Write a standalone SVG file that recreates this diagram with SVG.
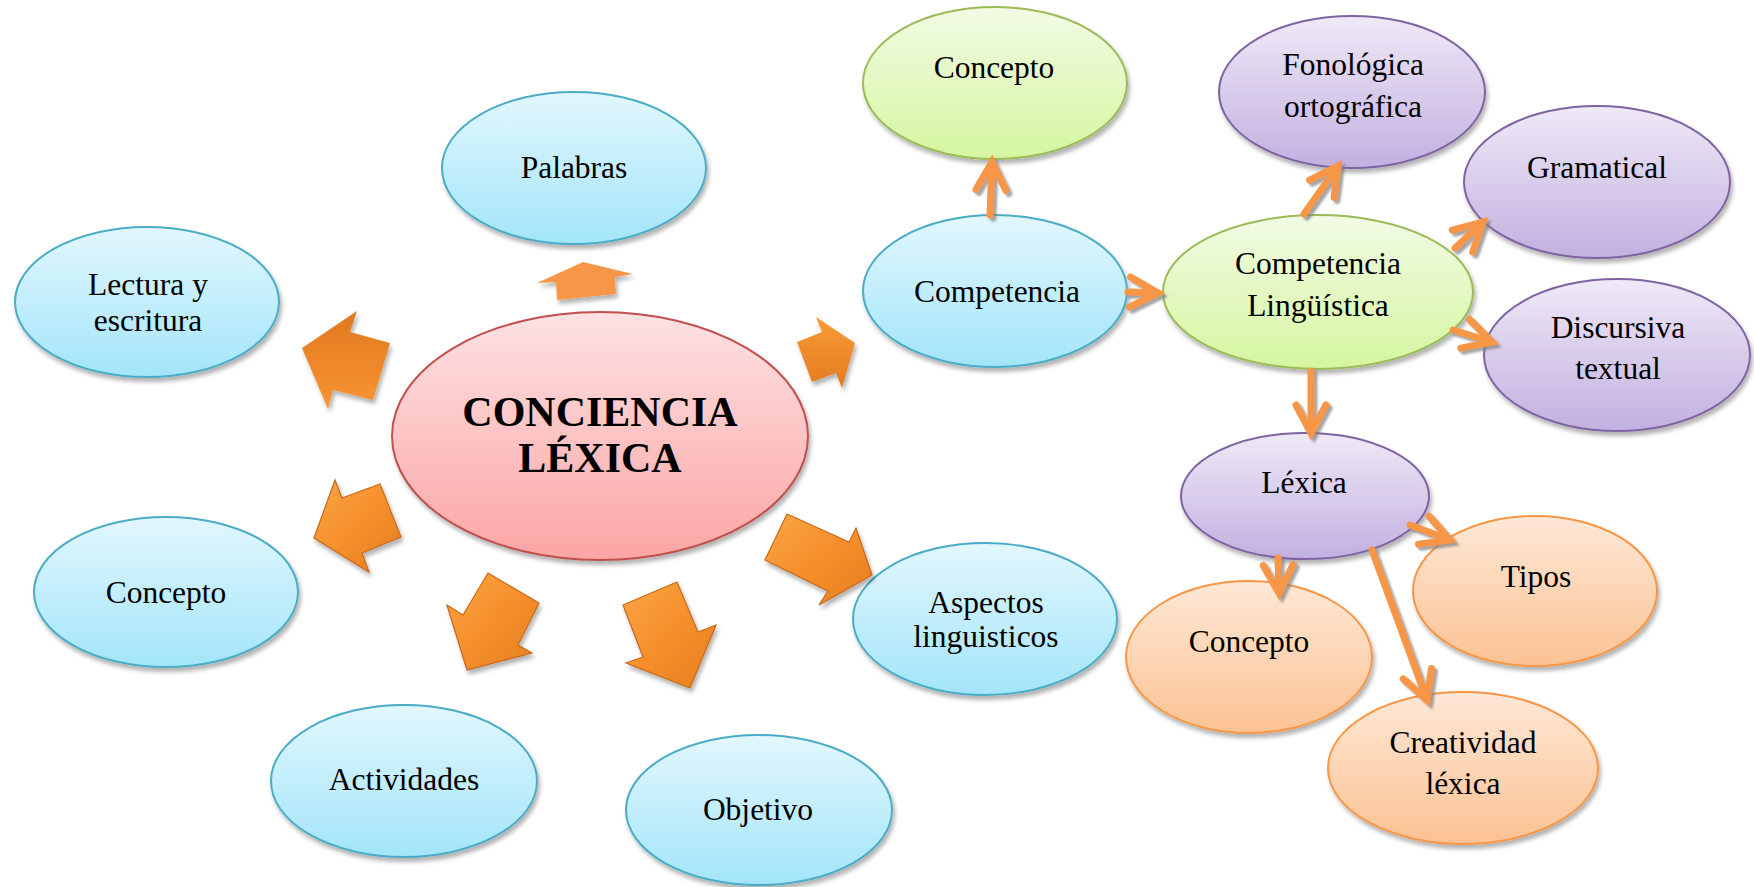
<svg xmlns="http://www.w3.org/2000/svg" width="1754" height="887" viewBox="0 0 1754 887">
<defs>
<linearGradient id="gBlue" x1="0" y1="0" x2="0" y2="1"><stop offset="0" stop-color="#e2f7fe"/><stop offset="1" stop-color="#a3e5f9"/></linearGradient>
<linearGradient id="gGreen" x1="0" y1="0" x2="0" y2="1"><stop offset="0" stop-color="#f2fbe4"/><stop offset="1" stop-color="#d5f6a0"/></linearGradient>
<linearGradient id="gPurple" x1="0" y1="0" x2="0" y2="1"><stop offset="0" stop-color="#efe9f7"/><stop offset="1" stop-color="#c2b0e0"/></linearGradient>
<linearGradient id="gOrange" x1="0" y1="0" x2="0" y2="1"><stop offset="0" stop-color="#fee8d6"/><stop offset="1" stop-color="#fbc293"/></linearGradient>
<linearGradient id="gPink" x1="0" y1="0" x2="0" y2="1"><stop offset="0" stop-color="#fde2e3"/><stop offset="1" stop-color="#fca5a5"/></linearGradient>
<linearGradient id="gArrDark" x1="0" y1="0" x2="0" y2="1"><stop offset="0" stop-color="#df7820"/><stop offset="1" stop-color="#f99533"/></linearGradient>
<linearGradient id="gArrLight" x1="0" y1="0" x2="0" y2="1"><stop offset="0" stop-color="#f99b36"/><stop offset="1" stop-color="#e27b21"/></linearGradient>
<linearGradient id="gBevel" x1="0" y1="0" x2="1" y2="1"><stop offset="0" stop-color="#fba645"/><stop offset="0.5" stop-color="#f68f2c"/><stop offset="1" stop-color="#e47e1f"/></linearGradient>
<filter id="sh" x="-10%" y="-10%" width="125%" height="130%"><feDropShadow dx="2" dy="4" stdDeviation="2" flood-color="#000" flood-opacity="0.3"/></filter>
<filter id="shc" x="-20%" y="-20%" width="150%" height="150%"><feDropShadow dx="3" dy="3" stdDeviation="1" flood-color="#7f7f7f" flood-opacity="0.7"/></filter>
<marker id="chev" markerUnits="userSpaceOnUse" orient="auto" refX="0" refY="0" markerWidth="40" markerHeight="40" viewBox="-36 -20 40 40" overflow="visible">
<path d="M-28,-15 L0,0 L-28,15" fill="none" stroke="#f79646" stroke-width="7" stroke-linecap="round" stroke-linejoin="miter"/>
</marker>
</defs>
<style>
text{font-family:"Liberation Serif","Times New Roman",serif;font-size:31.5px;fill:#000;text-anchor:middle}
.b{stroke:#4bacc6;stroke-width:2;fill:url(#gBlue)}
.g{stroke:#9bbb59;stroke-width:2;fill:url(#gGreen)}
.p{stroke:#8064a2;stroke-width:2;fill:url(#gPurple)}
.o{stroke:#f79646;stroke-width:2;fill:url(#gOrange)}
.c{stroke:#c0504d;stroke-width:2;fill:url(#gPink)}
.big{font-weight:bold;font-size:42px}
.ln{fill:none;stroke:#f79646;stroke-width:7;stroke-linecap:round;marker-end:url(#chev)}
.ba{filter:url(#sh)}
.bev{fill:url(#gBevel);stroke:#c9681a;stroke-width:1.2}
</style>
<rect width="1754" height="887" fill="#ffffff"/>

<g id="center"><ellipse class="c" cx="600" cy="436" rx="208" ry="124" filter="url(#sh)"/><text class="big" x="600" y="426">CONCIENCIA</text><text class="big" x="600" y="472">LÉXICA</text></g>
<g id="palabras"><ellipse class="b" cx="574" cy="168" rx="132" ry="76" filter="url(#sh)"/><text x="574" y="178">Palabras</text></g>
<g id="lectura"><ellipse class="b" cx="147" cy="302" rx="132" ry="75" filter="url(#sh)"/><text x="148" y="295">Lectura y</text><text x="148" y="331">escritura</text></g>
<g id="concepto-izq"><ellipse class="b" cx="166" cy="592" rx="132" ry="75" filter="url(#sh)"/><text x="166" y="603">Concepto</text></g>
<g id="actividades"><ellipse class="b" cx="404" cy="781" rx="133" ry="76" filter="url(#sh)"/><text x="404" y="790">Actividades</text></g>
<g id="objetivo"><ellipse class="b" cx="759" cy="810" rx="133" ry="75" filter="url(#sh)"/><text x="758" y="820">Objetivo</text></g>
<g id="aspectos"><ellipse class="b" cx="985" cy="619" rx="132" ry="76" filter="url(#sh)"/><text x="986" y="613">Aspectos</text><text x="986" y="647">linguisticos</text></g>
<g id="competencia"><ellipse class="b" cx="995" cy="291" rx="132" ry="76" filter="url(#sh)"/><text x="997" y="302">Competencia</text></g>
<g id="concepto-verde"><ellipse class="g" cx="995" cy="83" rx="132" ry="76" filter="url(#sh)"/><text x="994" y="78">Concepto</text></g>
<g id="competencia-linguistica"><ellipse class="g" cx="1318" cy="292" rx="155" ry="77" filter="url(#sh)"/><text x="1318" y="274">Competencia</text><text x="1318" y="316">Lingüística</text></g>
<g id="fonologica"><ellipse class="p" cx="1352" cy="92" rx="133" ry="76" filter="url(#sh)"/><text x="1353" y="75">Fonológica</text><text x="1353" y="117">ortográfica</text></g>
<g id="gramatical"><ellipse class="p" cx="1597" cy="182" rx="133" ry="76" filter="url(#sh)"/><text x="1597" y="178">Gramatical</text></g>
<g id="discursiva"><ellipse class="p" cx="1617" cy="355" rx="133" ry="76" filter="url(#sh)"/><text x="1618" y="338">Discursiva</text><text x="1618" y="379">textual</text></g>
<g id="lexica"><ellipse class="p" cx="1305" cy="496" rx="124" ry="63" filter="url(#sh)"/><text x="1304" y="493">Léxica</text></g>
<g id="concepto-naranja"><ellipse class="o" cx="1249" cy="657" rx="123" ry="76" filter="url(#sh)"/><text x="1249" y="652">Concepto</text></g>
<g id="tipos"><ellipse class="o" cx="1535" cy="591" rx="122" ry="75" filter="url(#sh)"/><text x="1536" y="587">Tipos</text></g>
<g id="creatividad"><ellipse class="o" cx="1463" cy="768" rx="135" ry="76" filter="url(#sh)"/><text x="1463" y="753">Creatividad</text><text x="1463" y="794">léxica</text></g>

<g id="connectors">
<g id="block-arrows" class="ba">
<polygon points="583,262 633,274 615,277 616,294 557,300 556,282 537,283" fill="#f79646"/>
<polygon points="855,343 816,317 822,332 797,342 812,382 836,373 842,388" fill="url(#gArrLight)"/>
<polygon points="302,348 357,311 350,332 390,343 373,400 333,390 328,409" fill="url(#gArrDark)"/>
<polygon class="bev" points="314,538 335,480 342,498 380,484 401,537 362,553 369,572"/>
<polygon class="bev" points="467,670 447,605 463,615 488,573 539,603 518,645 532,653"/>
<polygon class="bev" points="690,688 626,663 643,657 623,605 677,582 698,632 716,625"/>
<polygon class="bev" points="872,575 856,528 849,542 787,514 765,560 828,591 819,605"/>
</g>
<g id="lines" filter="url(#shc)">
<path class="ln" d="M990,215 L992,162"/>
<path class="ln" d="M1128,292 L1158,293"/>
<path class="ln" d="M1304,214 L1338,166"/>
<path class="ln" d="M1455,248 L1483,222"/>
<path class="ln" d="M1453,330 L1492,342"/>
<path class="ln" d="M1311,371 L1311,433"/>
<path class="ln" d="M1278,558 L1279,593"/>
<path class="ln" d="M1410,525 L1450,540"/>
<path class="ln" d="M1372,550 L1427,700"/>
</g>
</g>
</svg>
